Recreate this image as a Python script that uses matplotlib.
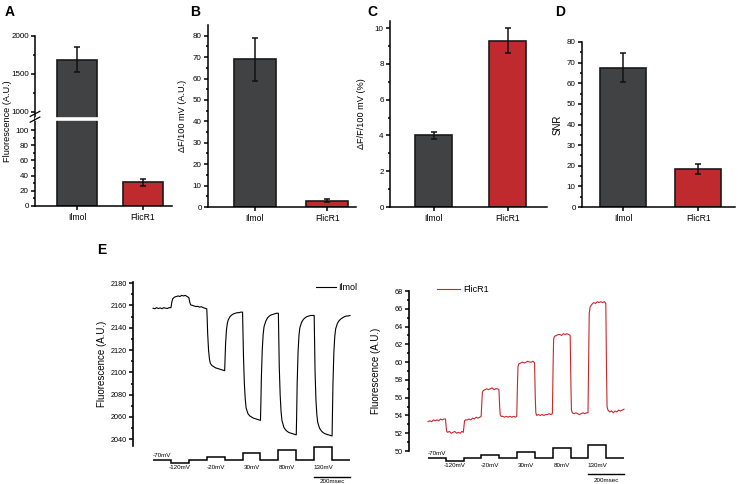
import numpy as np
import matplotlib
matplotlib.use("Agg")
import matplotlib.pyplot as plt

plt.rcParams['font.family'] = ['Liberation Sans', 'DejaVu Sans']

W, H = 738, 484
fig = plt.figure(figsize=(W / 100, H / 100), dpi=100)

def ax_px(l, t, r, b):
    ax = fig.add_axes([l / W, 1 - b / H, (r - l) / W, (b - t) / H])
    ax._px = (l, t, r, b)
    return ax

def ylabel_at(ax, text, center_px, fs):
    l, t, r, b = ax._px
    ax.set_ylabel(text, fontsize=fs)
    ax.yaxis.set_label_coords((center_px + 4 - l) / (r - l), 0.5)

# ---------------- data ----------------
categories = ["Ilmol", "FlicR1"]
bar_colors = ["#414244", "#be2a2e"]

fluor_vals = [1690, 31]
fluor_err = [165, 5]
dF_vals = [69, 3]
dF_err = [10, 0.7]
dFF_vals = [4.0, 9.3]
dFF_err = [0.2, 0.7]
snr_vals = [67.5, 18.5]
snr_err = [7, 2.5]

# Voltage protocol (mV), 100 ms per step
step_edges_ms = [0, 100, 200, 300, 400, 500, 600, 700, 800, 900, 1000, 1100]
step_mV = [-70, -120, -70, -20, -70, 30, -70, 80, -70, 130, -70]
step_labels = ["-120mV", "-20mV", "30mV", "80mV", "130mV"]
step_label_t = [150, 350, 550, 750, 950]

# Ilmol trace (time ms, fluorescence A.U.)
ilmol_t = [0, 10, 20, 30, 40, 50, 60, 70, 80, 90, 100,
           105, 110, 120, 130, 140, 150, 160, 170, 180, 190, 200,
           205, 210, 220, 230, 240, 250, 260, 270, 280, 290, 300,
           302, 305, 310, 315, 320, 330, 340, 350, 360, 370, 380, 390, 400,
           402, 405, 410, 415, 420, 430, 440, 450, 460, 470, 480, 490, 500,
           502, 505, 510, 515, 520, 530, 540, 550, 560, 570, 580, 590, 600,
           602, 605, 610, 615, 620, 630, 640, 650, 660, 670, 680, 690, 700,
           702, 705, 710, 715, 720, 730, 740, 750, 760, 770, 780, 790, 800,
           802, 805, 810, 815, 820, 830, 840, 850, 860, 870, 880, 890, 900,
           902, 905, 910, 915, 920, 930, 940, 950, 960, 970, 980, 990, 1000,
           1002, 1005, 1010, 1015, 1020, 1030, 1040, 1050, 1060, 1070, 1080, 1090, 1100]
ilmol_f = [2157.5, 2157, 2158, 2157.2, 2157.8, 2157, 2158, 2157.5, 2157.3, 2158, 2158,
           2163, 2166, 2167.5, 2168, 2168.5, 2168, 2169, 2168.5, 2169, 2168, 2167,
           2163, 2160.5, 2160, 2159.5, 2159, 2159.2, 2158.5, 2158.8, 2158, 2157.5, 2157,
           2150, 2135, 2120, 2112, 2108, 2106, 2105, 2104, 2103.5, 2103, 2102.5, 2102, 2101.5,
           2110, 2125, 2138, 2144, 2147, 2150, 2151.5, 2152.5, 2153, 2153.5, 2153.5, 2154, 2154,
           2140, 2115, 2090, 2076, 2068, 2063, 2061, 2060, 2059, 2058.5, 2058, 2057.5, 2057,
           2070, 2095, 2120, 2134, 2141, 2146, 2149, 2150.5, 2151.5, 2152, 2152.5, 2153, 2153,
           2135, 2105, 2080, 2065, 2057, 2051, 2048.5, 2047, 2046, 2045.5, 2045, 2044.5, 2044,
           2060, 2090, 2118, 2133, 2140, 2145, 2147.5, 2149, 2150, 2150.5, 2151, 2151, 2151,
           2130, 2100, 2075, 2062, 2055, 2050, 2047.5, 2046, 2045, 2044.5, 2044, 2043.5, 2043,
           2060, 2090, 2118, 2132, 2139, 2144, 2146.5, 2148, 2149, 2150, 2150.5, 2150.5, 2151]

# FlicR1 trace (time ms, fluorescence A.U.)
flicr_t = [0, 10, 20, 30, 40, 50, 60, 70, 80, 90, 98,
           102, 105, 110, 120, 130, 140, 150, 160, 170, 180, 190, 198,
           202, 205, 210, 220, 230, 240, 250, 260, 270, 280, 290, 298,
           302, 305, 310, 320, 330, 340, 350, 360, 370, 380, 390, 398,
           402, 405, 410, 420, 430, 440, 450, 460, 470, 480, 490, 498,
           502, 505, 510, 520, 530, 540, 550, 560, 570, 580, 590, 598,
           602, 605, 610, 620, 630, 640, 650, 660, 670, 680, 690, 698,
           702, 705, 710, 720, 730, 740, 750, 760, 770, 780, 790, 798,
           802, 805, 810, 820, 830, 840, 850, 860, 870, 880, 890, 898,
           902, 905, 910, 920, 930, 940, 950, 960, 970, 980, 990, 998,
           1002, 1005, 1010, 1020, 1030, 1040, 1050, 1060, 1070, 1080, 1090, 1100]
flicr_f = [53.3, 53.4, 53.3, 53.5, 53.4, 53.5, 53.4, 53.6, 53.5, 53.6, 53.6,
           52.6, 52.2, 52.1, 52.2, 52.0, 52.1, 52.2, 52.0, 52.1, 52.0, 52.2, 52.1,
           52.8, 53.4, 53.5, 53.5, 53.6, 53.5, 53.7, 53.6, 53.8, 53.7, 53.8, 53.9,
           55.5, 56.6, 56.8, 56.9, 57.0, 56.9, 57.0, 57.1, 56.9, 57.0, 57.0, 56.9,
           55.0, 54.1, 53.9, 53.9, 53.8, 53.9, 53.8, 53.9, 53.8, 53.9, 53.8, 53.9,
           57.5, 59.5, 59.8, 59.9, 60.0, 59.9, 60.0, 60.1, 60.0, 60.0, 60.1, 59.9,
           56.0, 54.3, 54.0, 54.1, 54.0, 54.1, 54.0, 54.1, 54.1, 54.2, 54.1, 54.2,
           59.5, 62.6, 62.9, 63.0, 63.1, 63.1, 63.0, 63.2, 63.1, 63.2, 63.1, 63.0,
           57.5, 54.6, 54.3, 54.2, 54.3, 54.2, 54.1, 54.2, 54.3, 54.2, 54.3, 54.3,
           61.0, 65.5, 66.2, 66.5, 66.7, 66.6, 66.8, 66.7, 66.8, 66.7, 66.8, 66.6,
           59.0, 55.0, 54.6, 54.4, 54.5, 54.3, 54.5, 54.4, 54.6, 54.5, 54.6, 54.7]

# ---------------- styles ----------------
TICK_FS = 5.8
LAB_FS = 6.6
CAT_FS = 6.2
SPINE_LW = 1.1

def style_bar_axes(ax):
    for s in ['top', 'right']:
        ax.spines[s].set_visible(False)
    for s in ['left', 'bottom']:
        ax.spines[s].set_linewidth(SPINE_LW)
    ax.tick_params(axis='y', which='major', direction='out', length=3, width=SPINE_LW,
                   labelsize=TICK_FS, pad=1.5)
    ax.tick_params(axis='y', which='minor', direction='out', length=1.8, width=SPINE_LW)
    ax.tick_params(axis='x', which='major', direction='out', length=3, width=SPINE_LW,
                   labelsize=CAT_FS, pad=2)
    ax.set_xticks([0, 1])
    ax.set_xticklabels(categories)

def draw_bars(ax, vals, errs, width):
    x = np.arange(len(categories))
    ax.bar(x, vals, width=width, color=bar_colors, edgecolor='#1a1a1a', linewidth=1.2, zorder=2)
    ax.errorbar(x, vals, yerr=errs, fmt='none', ecolor='#111111', elinewidth=1.1,
                capsize=2, capthick=1.1, zorder=3)

# ---------------- Panel A (broken axis) ----------------
def fwd(y):
    y = np.asarray(y, dtype=float)
    return np.where(y <= 110, y,
                    np.where(y <= 1000, 110 + (y - 110) * 13.7 / 890, 123.7 + (y - 1000) / 10))

def inv(u):
    u = np.asarray(u, dtype=float)
    return np.where(u <= 110, u,
                    np.where(u <= 123.7, 110 + (u - 110) * 890 / 13.7, 1000 + (u - 123.7) * 10))

axA = ax_px(35, 36, 172, 206)
axA.set_yscale('function', functions=(fwd, inv))
draw_bars(axA, fluor_vals, fluor_err, 0.6)
axA.set_xlim(-0.64, 1.44)
axA.set_ylim(0, 2000)
style_bar_axes(axA)
axA.set_yticks([0, 20, 40, 60, 80, 100, 1000, 1500, 2000])
axA.set_yticklabels(['0', '20', '40', '60', '80', '100', '1000', '1500', '2000'])
axA.set_yticks([10, 30, 50, 70, 90, 1250, 1750], minor=True)
axA.yaxis.set_minor_formatter(plt.NullFormatter())
axA.axhline(400, color='white', lw=2.6, zorder=4)
for dy in (-0.012, 0.022):
    axA.plot([-0.035, 0.035], [0.505 + dy, 0.535 + dy], transform=axA.transAxes,
             color='black', lw=0.9, clip_on=False, zorder=6)
ylabel_at(axA, 'Fluorescence (A.U.)', 8, LAB_FS)

# ---------------- Panel B ----------------
axB = ax_px(208, 25, 356, 207)
draw_bars(axB, dF_vals, dF_err, 0.58)
axB.set_xlim(-0.65, 1.40)
axB.set_ylim(0, 85)
style_bar_axes(axB)
axB.set_yticks(np.arange(0, 81, 10))
axB.set_yticks(np.arange(5, 85, 10), minor=True)
ylabel_at(axB, 'ΔF/100 mV (A.U.)', 183, LAB_FS)

# ---------------- Panel C ----------------
axC = ax_px(390, 21, 547, 207)
draw_bars(axC, dFF_vals, dFF_err, 0.5)
axC.set_xlim(-0.59, 1.53)
axC.set_ylim(0, 10.4)
style_bar_axes(axC)
axC.set_yticks(np.arange(0, 11, 2))
axC.set_yticks(np.arange(1, 10.5, 2), minor=True)
ylabel_at(axC, 'ΔF/F/100 mV (%)', 362, LAB_FS)

# ---------------- Panel D ----------------
axD = ax_px(582, 42, 735, 207)
draw_bars(axD, snr_vals, snr_err, 0.61)
axD.set_xlim(-0.55, 1.49)
axD.set_ylim(0, 80)
style_bar_axes(axD)
axD.set_yticks(np.arange(0, 81, 10))
axD.set_yticks(np.arange(5, 80, 10), minor=True)
ylabel_at(axD, 'SNR', 559, 7)

# ---------------- Panel E ----------------
def style_trace_axes(ax):
    for s in ['top', 'right', 'bottom']:
        ax.spines[s].set_visible(False)
    ax.spines['left'].set_linewidth(1.2)
    ax.set_xticks([])
    ax.tick_params(axis='y', which='major', direction='out', length=3, width=1.1,
                   labelsize=5.2, pad=1.5)
    ax.tick_params(axis='y', which='minor', direction='out', length=1.8, width=1.1)
    ax.yaxis.set_minor_formatter(plt.NullFormatter())

axE1 = ax_px(133, 282, 360, 446)
axE1.plot(ilmol_t, ilmol_f, color='black', lw=0.8, label='Ilmol')
axE1.set_xlim(-112, 1156)
axE1.set_ylim(2034, 2181)
style_trace_axes(axE1)
axE1.set_yticks(np.arange(2040, 2181, 20))
axE1.set_yticks(np.arange(2050, 2180, 20), minor=True)
ylabel_at(axE1, 'Fluorescence (A.U.)', 103, 7)
axE1.legend(loc='center left', bbox_to_anchor=(316 / W, 1 - 288 / H), bbox_transform=fig.transFigure,
            frameon=False, fontsize=6.5, handlelength=2.2, handletextpad=0.3, borderpad=0,
            borderaxespad=0)

axE2 = ax_px(409, 291, 640, 451)
axE2.plot(flicr_t, flicr_f, color='#c8282c', lw=0.8, label='FlicR1')
axE2.set_xlim(-107, 1190)
axE2.set_ylim(50, 68)
style_trace_axes(axE2)
axE2.set_yticks(np.arange(50, 69, 2))
axE2.set_yticks(np.arange(51, 68, 2), minor=True)
ylabel_at(axE2, 'Fluorescence (A.U.)', 377, 7)
axE2.legend(loc='center left', bbox_to_anchor=(437 / W, 1 - 290 / H), bbox_transform=fig.transFigure,
            frameon=False, fontsize=6.5, handlelength=2.6, handletextpad=0.3, borderpad=0,
            borderaxespad=0)

# voltage protocol
def draw_protocol(ax, xlim, ylim, bar_off_px, lab_off_px):
    ax.set_xlim(*xlim)
    ax.set_ylim(*ylim)
    ax.axis('off')
    ax.stairs(step_mV, step_edges_ms, baseline=None, color='black', lw=1.1)
    ax.annotate('-70mV', xy=(0, -70), xytext=(0, 1.2), textcoords='offset points',
                ha='left', va='bottom', fontsize=4.5)
    for t, lab in zip(step_label_t, step_labels):
        ax.annotate(lab, xy=(t, -70), xytext=(0, -5.2), textcoords='offset points',
                    ha='center', va='center', fontsize=4.5)
    ax.plot([900, 1100], [-70, -70], color='black', lw=1.0,
            transform=ax.transData + matplotlib.transforms.ScaledTranslation(0, -bar_off_px / 100, fig.dpi_scale_trans))
    ax.annotate('200msec', xy=(1000, -70), xytext=(0, -lab_off_px * 0.72), textcoords='offset points',
                ha='center', va='center', fontsize=4.5)

axP1 = ax_px(133, 440, 360, 484)
draw_protocol(axP1, (-112, 1156), (-434, 233), 17, 21.5)
axP2 = ax_px(409, 440, 640, 484)
draw_protocol(axP2, (-107, 1190), (-470, 207), 16, 22)

# panel letters
for lab, x, y in [('A', 5, 12), ('B', 190, 12), ('C', 367, 12), ('D', 555, 12), ('E', 97, 250)]:
    fig.text(x / W, 1 - y / H, lab, fontsize=10, fontweight='bold', ha='left', va='center')

fig.savefig('out.png', dpi=100)
